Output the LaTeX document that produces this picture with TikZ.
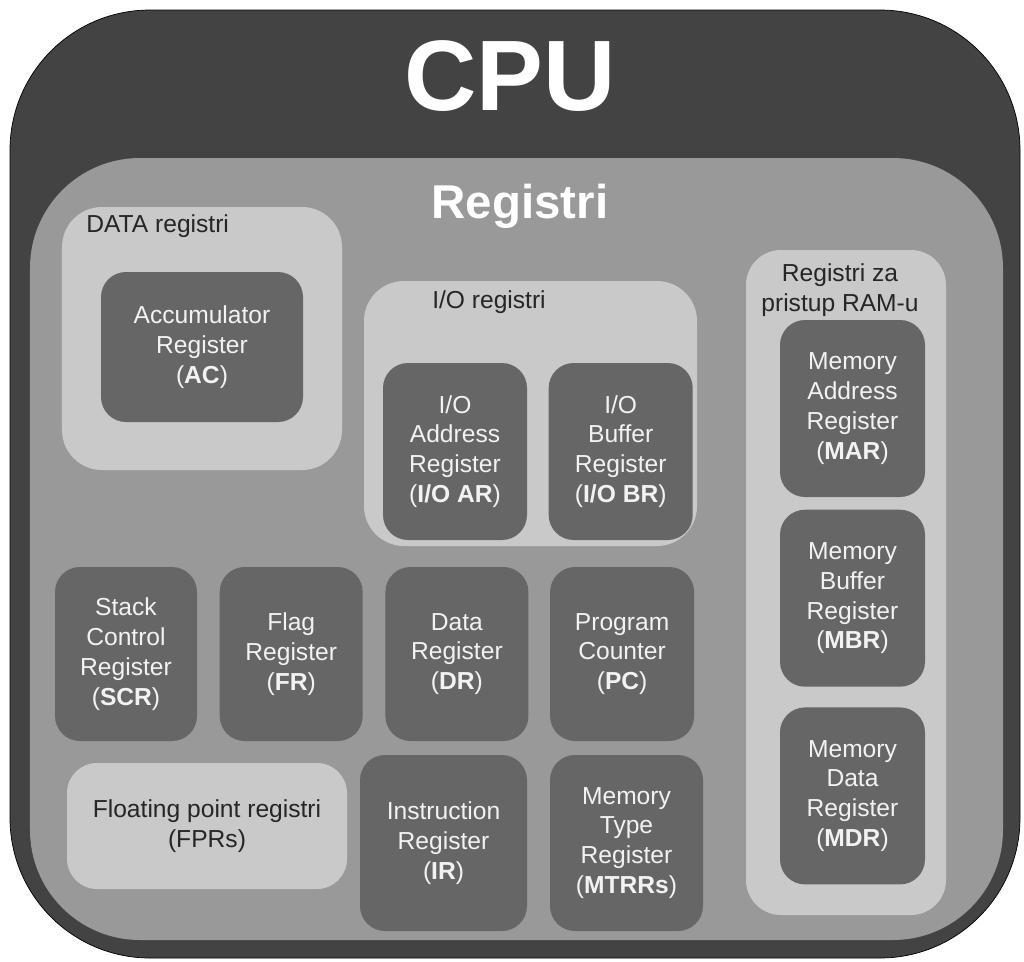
\documentclass[tikz,border=0pt]{standalone}
\usepackage{fontspec}
\setmainfont{Liberation Sans}
\usepackage{tikz}
\usetikzlibrary{positioning}

\definecolor{cpudark}{HTML}{434343}
\definecolor{regmid}{HTML}{999999}
\definecolor{grouplight}{HTML}{C9C9C9}
\definecolor{regbox}{HTML}{666666}
\definecolor{regtext}{HTML}{F2F2F2}

\begin{document}
\begin{tikzpicture}[
    group/.style={
        rectangle, rounded corners=0.8cm, fill=grouplight, draw=none
    },
    reg/.style={
        rectangle, rounded corners=0.5cm, fill=regbox, draw=none,
        text=regtext, align=center, inner sep=0pt,
        font=\fontsize{14}{17}\selectfont,
        minimum width=2.88cm, minimum height=3.54cm
    },
    grouplabel/.style={font=\fontsize{14}{17}\selectfont, text=black!85, inner sep=0pt}
]
\useasboundingbox (0,0) rectangle (20.48,-19.24);

% === CPU and register area ===
\node[rectangle, rounded corners=2.8cm, fill=cpudark, draw=black, thin,
      minimum width=20.2cm, minimum height=18.96cm] (cpu) at (10.30,-9.68) {};
\node[text=white, font=\fontsize{57}{57}\selectfont\bfseries, inner sep=0pt]
    (cputitle) at (10.20,-1.52) {CPU};

\node[rectangle, rounded corners=2.2cm, fill=regmid, draw=none,
      minimum width=19.46cm, minimum height=15.64cm] (regs) at (10.33,-10.98) {};
\node[text=white, font=\fontsize{27}{27}\selectfont\bfseries, inner sep=0pt,
      anchor=base] (regstitle) at (10.40,-4.36) {Registri};

% === DATA registri ===
\node[group, minimum width=5.6cm, minimum height=5.26cm] (data) at (4.04,-6.77) {};
\node[grouplabel, anchor=base west] (datalabel) at (1.72,-4.64) {DATA registri};
\node[reg, minimum width=4.04cm, minimum height=3.0cm] (ac) at (4.04,-6.94)
    {Accumulator\\Register\\(\textbf{AC})};

% === I/O registri ===
\node[group, minimum width=6.66cm, minimum height=5.3cm] (io) at (10.61,-8.27) {};
\node[grouplabel, anchor=base] (iolabel) at (9.78,-6.16) {I/O registri};
\node[reg] (ioar) at (9.10,-9.03) {I/O\\Address\\Register\\(\textbf{I/O AR})};
\node[reg, right=0.42cm of ioar] (iobr) {I/O\\Buffer\\Register\\(\textbf{I/O BR})};

% === Registri za pristup RAM-u ===
\node[group, rounded corners=0.7cm, minimum width=4.0cm, minimum height=13.3cm]
    (ram) at (16.92,-11.65) {};
\node[grouplabel, align=center] (ramlabel) at (16.80,-5.80)
    {Registri za\\pristup RAM-u};
\node[reg, minimum width=2.9cm] (mar) at (17.05,-8.17)
    {Memory\\Address\\Register\\(\textbf{MAR})};
\node[reg, minimum width=2.9cm, below=0.24cm of mar] (mbr)
    {Memory\\Buffer\\Register\\(\textbf{MBR})};
\node[reg, minimum width=2.9cm, below=0.4cm of mbr] (mdr)
    {Memory\\Data\\Register\\(\textbf{MDR})};

% === Middle row ===
\node[reg, minimum width=2.84cm, minimum height=3.48cm] (scr) at (2.52,-13.08)
    {Stack\\Control\\Register\\(\textbf{SCR})};
\node[reg, minimum width=2.86cm, minimum height=3.48cm, right=0.44cm of scr] (fr)
    {Flag\\Register\\(\textbf{FR})};
\node[reg, minimum width=2.86cm, minimum height=3.48cm, right=0.44cm of fr] (dr)
    {Data\\Register\\(\textbf{DR})};
\node[reg, minimum width=2.88cm, minimum height=3.48cm, right=0.42cm of dr] (pc)
    {Program\\Counter\\(\textbf{PC})};

% === Bottom row ===
\node[group, rounded corners=0.6cm, minimum width=5.6cm, minimum height=2.52cm,
      align=center, font=\fontsize{14}{17}\selectfont, text=black!85]
    (fpr) at (4.14,-16.52) {Floating point registri\\(FPRs)};
\node[reg, minimum width=3.34cm, minimum height=3.52cm] (ir) at (8.87,-16.86)
    {Instruction\\Register\\(\textbf{IR})};
\node[reg, minimum width=3.06cm, minimum height=3.52cm] (mtrr) at (12.53,-16.86)
    {Memory\\Type\\Register\\(\textbf{MTRRs})};

\end{tikzpicture}
\end{document}
